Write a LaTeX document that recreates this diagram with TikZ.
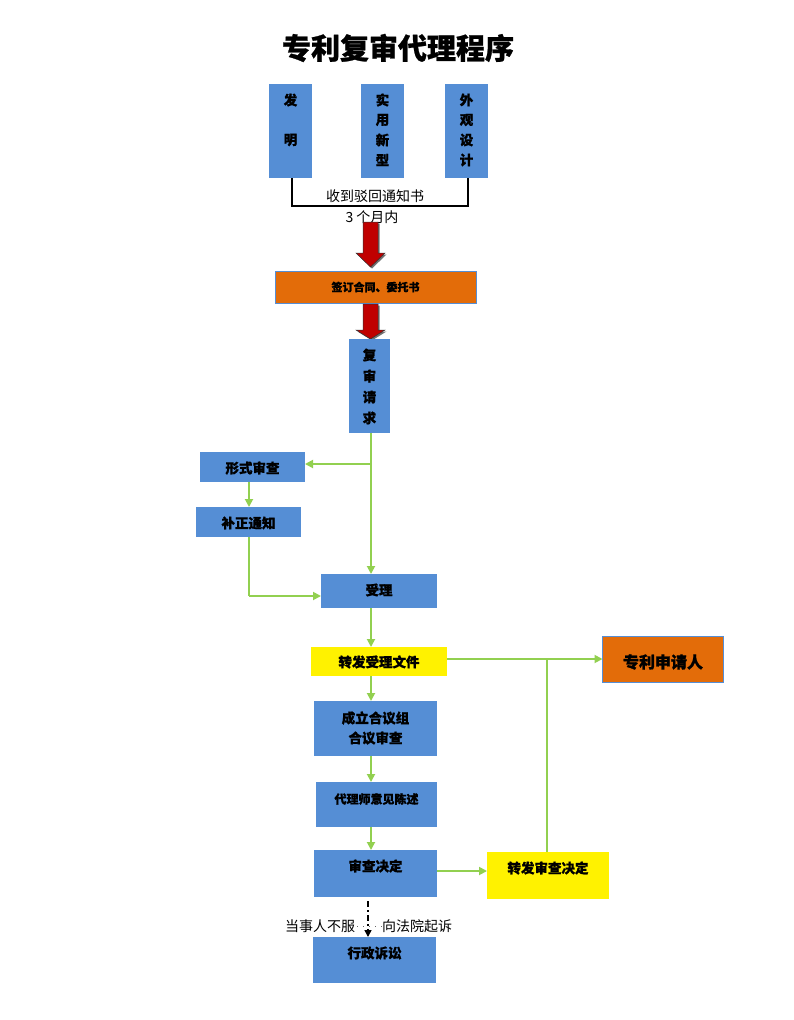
\documentclass[tikz,border=0pt]{standalone}
\usepackage{fontspec}
\setmainfont{Noto Sans CJK SC}[BoldFeatures={FakeBold=0.9}]
\usetikzlibrary{arrows.meta}
\definecolor{bboxc}{RGB}{85,142,213}
\definecolor{oboxc}{RGB}{227,108,9}
\definecolor{gline}{RGB}{146,208,80}
\definecolor{rarrowc}{RGB}{192,0,0}
\newcommand\redarr[4]{%
  \fill[black!55] ({#1-7.5+1.5},{#2+1.5}) -- ({#1+7.5+1.5},{#2+1.5}) -- ({#1+7.5+1.5},{#3+1.5}) -- ({#1+14.5+1.5},{#3+1.5}) -- ({#1+1.5},{#4+1.5}) -- ({#1-14.5+1.5},{#3+1.5}) -- ({#1-7.5+1.5},{#3+1.5}) -- cycle;
  \filldraw[fill=rarrowc, draw=black!80, line width=0.5pt] ({#1-7.5},#2) -- ({#1+7.5},#2) -- ({#1+7.5},#3) -- ({#1+14.5},#3) -- (#1,#4) -- ({#1-14.5},#3) -- ({#1-7.5},#3) -- cycle;}
\begin{document}
\begin{tikzpicture}[x=1pt,y=-1pt,
  bx/.style={rectangle, inner sep=0pt, outer sep=0pt},
  bluebox/.style={bx, fill=bboxc},
  orgbox/.style={bx, fill=oboxc, draw=bboxc, line width=1pt},
  yelbox/.style={bx, fill=yellow},
  tx/.style={inner sep=0pt, font=\bfseries\fontsize{13.5}{16}\selectfont},
  lbl/.style={inner sep=0pt, font=\fontsize{14}{16}\selectfont},
  gar/.style={draw=gline, line width=1.8pt, -{Triangle[width=8pt,length=8pt]}},
  gln/.style={draw=gline, line width=1.8pt}]
\fill[white] (0,0) rectangle (794,1020);
\useasboundingbox (0,0) rectangle (794,1020);
% title
\node[inner sep=0pt, font=\bfseries\fontsize{29}{31}\selectfont] (title) at (398,48) {专利复审代理程序};
% top three boxes
\node[bluebox, minimum width=43, minimum height=94] (fm) at (290.5,131) {};
\node[tx] (fm1) at (290.5,100) {发};
\node[tx] (fm2) at (290.5,140) {明};
\node[bluebox, minimum width=43, minimum height=94] (sy) at (382.5,131) {};
\node[tx] (sy1) at (382.5,100) {实};
\node[tx] (sy2) at (382.5,120) {用};
\node[tx] (sy3) at (382.5,140) {新};
\node[tx] (sy4) at (382.5,160) {型};
\node[bluebox, minimum width=43, minimum height=94] (wg) at (466.5,131) {};
\node[tx] (wg1) at (466.5,100) {外};
\node[tx] (wg2) at (466.5,120) {观};
\node[tx] (wg3) at (466.5,140) {设};
\node[tx] (wg4) at (466.5,160) {计};
% bracket
\coordinate (brk) at (0,206);
\coordinate (fmb) at (292,178);
\coordinate (wgb) at (468,178);
\draw[black, line width=1.5pt] (fmb) -- (fmb |- brk) -- (wgb |- brk) -- (wgb);
\node[lbl] (recv) at (375,196) {收到驳回通知书};
\node[lbl] (m3) at (372,217) {3 个月内};
% red arrows
\redarr{370.5}{222}{253}{267}
\node[orgbox, minimum width=201, minimum height=32] (qd) at (375.5,287) {};
\node[tx, font=\bfseries\fontsize{11}{13}\selectfont] (qdt) at (375.5,287) {签订合同、委托书};
\redarr{370.5}{304}{330}{339}
% fushen qingqiu
\node[bluebox, minimum width=41, minimum height=94] (fs) at (369.5,386) {};
\node[tx] (fs1) at (369.5,355) {复};
\node[tx] (fs2) at (369.5,376) {审};
\node[tx] (fs3) at (369.5,397) {请};
\node[tx] (fs4) at (369.5,418) {求};
% formal examination
\node[bluebox, minimum width=105, minimum height=30] (xs) at (252.5,467) {};
\node[tx] (xst) at (252.5,468) {形式审查};
\node[bluebox, minimum width=105, minimum height=30] (bz) at (248.5,522) {};
\node[tx] (bzt) at (248.5,523) {补正通知};
\node[bluebox, minimum width=116, minimum height=34] (sl) at (379,591) {};
\node[tx] (slt) at (379,590) {受理};
\coordinate (mainx) at (371,0);
\coordinate (brx) at (0,464);
\coordinate (bzx) at (249,0);
\coordinate (bzy) at (0,596);
\draw[gar] (mainx |- fs.south) -- (mainx |- sl.north);
\draw[gar] (mainx |- brx) -- (xs.east |- brx);
\draw[gar] (bzx |- xs.south) -- (bzx |- bz.north);
\draw[gln] (bzx |- bz.south) -- (bzx |- bzy);
\draw[gar] (bzx |- bzy) -- (sl.west |- bzy);
% forward acceptance
\node[yelbox, minimum width=136, minimum height=29] (zf) at (379,661.5) {};
\node[tx] (zft) at (379,662) {转发受理文件};
\node[orgbox, minimum width=121, minimum height=46] (sq) at (663,659) {};
\node[tx, font=\bfseries\fontsize{16}{18}\selectfont] (sqt) at (663,662) {专利申请人};
\draw[gar] (mainx |- sl.south) -- (mainx |- zf.north);
\coordinate (zfy) at (0,659);
\draw[gar] (zf.east |- zfy) -- (sq.west |- zfy);
% hearing panel
\node[bluebox, minimum width=123, minimum height=55] (hy) at (375.5,728.5) {};
\node[tx] (hy1) at (375.5,718) {成立合议组};
\node[tx] (hy2) at (375.5,738) {合议审查};
\draw[gar] (mainx |- zf.south) -- (mainx |- hy.north);
\node[bluebox, minimum width=121, minimum height=45] (dl) at (376.5,804.5) {};
\node[tx, font=\bfseries\fontsize{12}{14}\selectfont] (dlt) at (376.5,799) {代理师意见陈述};
\draw[gar] (mainx |- hy.south) -- (mainx |- dl.north);
\node[bluebox, minimum width=123, minimum height=47] (sc) at (375.5,873.5) {};
\node[tx] (sct) at (375.5,866) {审查决定};
\draw[gar] (mainx |- dl.south) -- (mainx |- sc.north);
\node[yelbox, minimum width=122, minimum height=47] (zs) at (548,875.5) {};
\node[tx] (zst) at (548,868) {转发审查决定};
\coordinate (scy) at (0,871);
\draw[gar] (sc.east |- scy) -- (zs.west |- scy);
\coordinate (zsx) at (547,0);
\draw[gln] (zsx |- zs.north) -- (zsx |- zfy);
% litigation
\node[bluebox, minimum width=123, minimum height=46] (xz) at (374.5,960) {};
\node[tx] (xzt) at (374.5,953) {行政诉讼};
\coordinate (dx) at (368,0);
\draw[black, line width=1.5pt, dash pattern=on 6pt off 3pt on 2pt off 3pt, -{Triangle[width=7pt,length=7pt]}] (dx |- 0,901) -- (dx |- xz.north);
\draw[black!60, line width=0.8pt, dash pattern=on 1pt off 5pt] (357,926) -- (382,926);
\node[lbl] (ds) at (320,926) {当事人不服};
\node[lbl] (fy) at (417,926) {向法院起诉};
\end{tikzpicture}
\end{document}
